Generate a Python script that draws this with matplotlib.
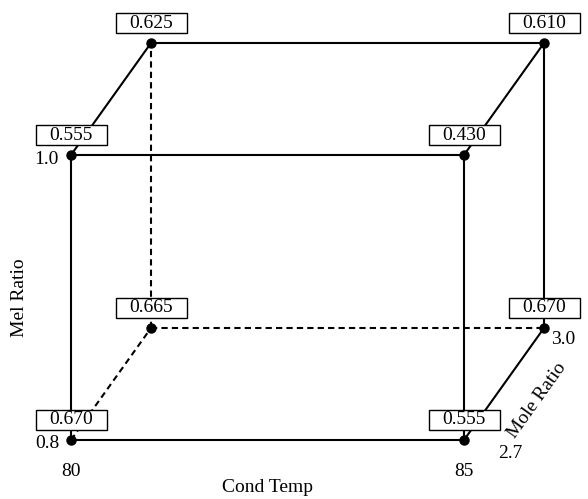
import numpy as np
import matplotlib
matplotlib.use('Agg')
import matplotlib.pyplot as plt
from matplotlib.patches import Rectangle

# ---- data --------------------------------------------------------------
cond_temp = [80, 85]          # x factor
mel_ratio = [0.8, 1.0]        # y factor
mole_ratio = [2.7, 3.0]       # depth factor

# corner responses: (temp, mel, mole, value)
corner_temp = [80, 85, 80, 85, 80, 85, 80, 85]
corner_mel = [0.8, 0.8, 1.0, 1.0, 0.8, 0.8, 1.0, 1.0]
corner_mole = [2.7, 2.7, 2.7, 2.7, 3.0, 3.0, 3.0, 3.0]
corner_val = [0.670, 0.555, 0.555, 0.430, 0.665, 0.670, 0.625, 0.610]

plt.rcParams['font.family'] = ['Liberation Serif', 'DejaVu Serif']

# oblique projection of the depth axis
OX = 80 / 393.0
OY = 112 / 285.0


def proj(t, m, r):
    u = (t - cond_temp[0]) / (cond_temp[1] - cond_temp[0])
    v = (m - mel_ratio[0]) / (mel_ratio[1] - mel_ratio[0])
    w = (r - mole_ratio[0]) / (mole_ratio[1] - mole_ratio[0])
    return u + w * OX, v + w * OY


fig = plt.figure(figsize=(5.88, 4.99), dpi=100)
ax = fig.add_axes([0, 0, 1, 1])
ax.set_xlim(-71 / 393.0, 517 / 393.0)
ax.set_ylim(-59 / 285.0, 440 / 285.0)
ax.axis('off')

px = 1 / 393.0   # one pixel in x
py = 1 / 285.0   # one pixel in y

# edges of the cube
hidden = (cond_temp[0], mel_ratio[0], mole_ratio[1])
for i in range(8):
    for j in range(i + 1, 8):
        a = (corner_temp[i], corner_mel[i], corner_mole[i])
        b = (corner_temp[j], corner_mel[j], corner_mole[j])
        diff = sum(1 for k in range(3) if a[k] != b[k])
        if diff != 1:
            continue
        ls = (0, (3, 2)) if (a == hidden or b == hidden) else '-'
        x0, y0 = proj(*a)
        x1, y1 = proj(*b)
        ax.plot([x0, x1], [y0, y1], color='black', lw=1.5, ls=ls, zorder=1)

# corner points and value boxes
for t, m, r, val in zip(corner_temp, corner_mel, corner_mole, corner_val):
    x, y = proj(t, m, r)
    ax.plot(x, y, 'o', color='black', ms=6.5, zorder=3)
    bw, bh = 71 * px, 20 * py
    cy = y + 20 * py
    ax.add_patch(Rectangle((x - bw / 2, cy - bh / 2), bw, bh,
                           facecolor='white', edgecolor='black', lw=1.0,
                           zorder=4))
    ax.text(x, cy, '%.3f' % val, ha='center', va='center',
            fontsize=14, zorder=5)

# factor levels
fs = 14
x, y = proj(cond_temp[0], mel_ratio[1], mole_ratio[0])
ax.text(x - 12 * px, y - 5 * py, '%.1f' % mel_ratio[1], ha='right', va='center', fontsize=fs)
x, y = proj(cond_temp[0], mel_ratio[0], mole_ratio[0])
ax.text(x - 12 * px, y - 3 * py, '%.1f' % mel_ratio[0], ha='right', va='center', fontsize=fs)
ax.text(x, y - 31 * py, '%d' % cond_temp[0], ha='center', va='center', fontsize=fs)
x, y = proj(cond_temp[1], mel_ratio[0], mole_ratio[0])
ax.text(x, y - 32 * py, '%d' % cond_temp[1], ha='center', va='center', fontsize=fs)
ax.text(x + 46 * px, y - 13 * py, '%.1f' % mole_ratio[0], ha='center', va='center', fontsize=fs)
x, y = proj(cond_temp[1], mel_ratio[0], mole_ratio[1])
ax.text(x + 19 * px, y - 12 * py, '%.1f' % mole_ratio[1], ha='center', va='center', fontsize=fs)

# axis names
x0, y0 = proj(cond_temp[0], mel_ratio[0], mole_ratio[0])
x1, _ = proj(cond_temp[1], mel_ratio[0], mole_ratio[0])
ax.text((x0 + x1) / 2, y0 - 47 * py, 'Cond Temp', ha='center', va='center', fontsize=fs)
ax.text(x0 - 51 * px, y0 + 142 * py, 'Mel Ratio', ha='center', va='center',
        rotation=90, fontsize=fs)
xm, ym = proj(cond_temp[1], mel_ratio[0], (mole_ratio[0] + mole_ratio[1]) / 2)
ax.text(xm + 33 * px, ym - 16 * py, 'Mole Ratio', ha='center', va='center',
        rotation=np.degrees(np.arctan2(112, 80)), fontsize=fs)

fig.savefig('out.png', dpi=100)
